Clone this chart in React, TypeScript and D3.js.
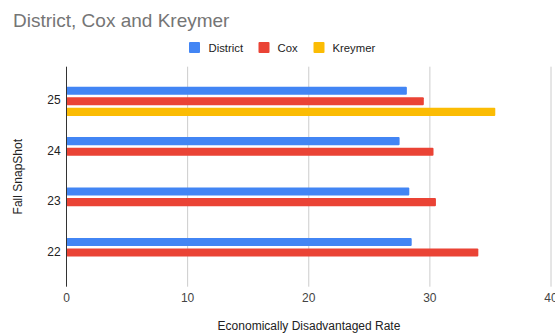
import React from "react";
import * as d3 from "d3";

const categories = ["25", "24", "23", "22"];
const seriesNames = ["District", "Cox", "Kreymer"];
const seriesColors = ["#4285F4", "#EA4335", "#FBBC04"];
const districtValues = [28.1, 27.5, 28.3, 28.5];
const coxValues = [29.5, 30.3, 30.5, 34.0];
const kreymerValues: (number | null)[] = [35.4, null, null, null];
const xTicks = [0, 10, 20, 30, 40];

const W = 555;
const H = 333;
const FONT = "Arial, 'Liberation Sans', sans-serif";

export default function App() {
  const series = [districtValues, coxValues, kreymerValues];
  const x = d3.scaleLinear().domain([0, 40]).range([66.5, 551]);
  const y = d3.scaleBand<string>().domain(categories).range([76.1, 277.7]).padding(0);
  const inner = d3
    .scaleBand<string>()
    .domain(seriesNames)
    .range([-14.6, 14.6])
    .paddingInner(0.23)
    .paddingOuter(0);
  const plotTop = 66.7;
  const plotBottom = 286.7;

  return (
    <svg
      width={W}
      height={H}
      style={{ position: "absolute", left: 0, top: 0, background: "#fff" }}
      fontFamily={FONT}
    >
      <rect x={0} y={0} width={W} height={H} fill="#fff" />
      <text x={13} y={26.8} fontSize={19} fill="#757575">
        District, Cox and Kreymer
      </text>

      {/* legend */}
      {(() => {
        const items = [
          { sx: 189, tx: 208.5 },
          { sx: 258.5, tx: 277.5 },
          { sx: 313.5, tx: 332.5 },
        ];
        return seriesNames.map((n, i) => (
          <g key={n}>
            <rect x={items[i].sx} y={42} width={11} height={11} rx={1} fill={seriesColors[i]} />
            <text x={items[i].tx} y={51.5} fontSize={11.3} fill="#222">
              {n}
            </text>
          </g>
        ));
      })()}

      {/* gridlines */}
      {xTicks.slice(1).map((t) => (
        <line
          key={t}
          x1={x(t)}
          x2={x(t)}
          y1={plotTop}
          y2={plotBottom}
          stroke="#cccccc"
          strokeWidth={1}
        />
      ))}

      {/* bars */}
      {categories.map((c, ci) => {
        const cy = (y(c) as number) + y.bandwidth() / 2;
        return series.map((vals, si) => {
          const v = vals[ci];
          if (v == null) return null;
          const by = cy + (inner(seriesNames[si]) as number);
          return (
            <rect
              key={c + si}
              x={x(0)}
              y={by}
              width={x(v) - x(0)}
              height={inner.bandwidth()}
              rx={1}
              fill={seriesColors[si]}
            />
          );
        });
      })}

      {/* zero axis line */}
      <line x1={x(0)} x2={x(0)} y1={plotTop} y2={plotBottom} stroke="#333" strokeWidth={1} />

      {/* x tick labels */}
      {xTicks.map((t) => (
        <text key={t} x={x(t)} y={302} fontSize={12} fill="#444" textAnchor="middle">
          {t}
        </text>
      ))}

      {/* y tick labels */}
      {categories.map((c) => (
        <text
          key={c}
          x={60.7}
          y={(y(c) as number) + y.bandwidth() / 2 + 3}
          fontSize={12}
          fill="#222"
          textAnchor="end"
        >
          {c}
        </text>
      ))}

      <text
        transform={`translate(22,${(plotTop + plotBottom) / 2}) rotate(-90)`}
        fontSize={12}
        fill="#222"
        textAnchor="middle"
      >
        Fall SnapShot
      </text>
      <text x={309} y={330} fontSize={12} fill="#222" textAnchor="middle">
        Economically Disadvantaged Rate
      </text>
    </svg>
  );
}
